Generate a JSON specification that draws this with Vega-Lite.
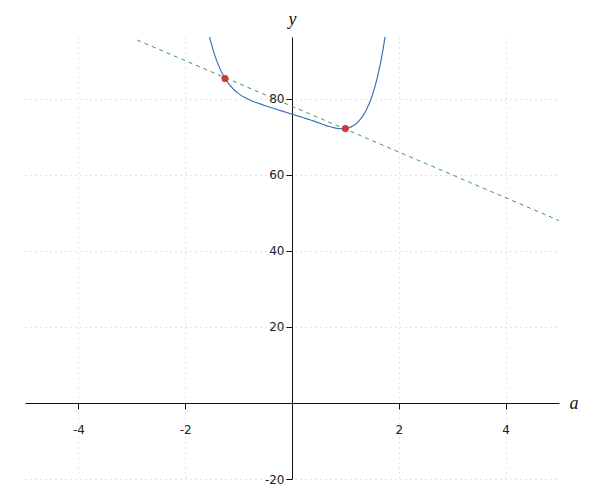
{
  "$schema": "https://vega.github.io/schema/vega-lite/v6.json",
  "autosize": "none",
  "width": 534,
  "height": 442,
  "padding": {"left": 25, "top": 37, "right": 41, "bottom": 21},
  "background": "white",
  "config": {
    "view": {"stroke": null},
    "axis": {
      "labelFont": "DejaVu Sans",
      "labelFontSize": 12,
      "labelColor": "#222",
      "domainColor": "#111",
      "tickColor": "#111",
      "gridColor": "#c8c8c8",
      "gridDash": [1, 4],
      "gridWidth": 1,
      "titleFont": "Liberation Serif",
      "titleFontStyle": "italic",
      "titleFontWeight": "normal",
      "titleFontSize": 18,
      "titleColor": "#111"
    }
  },
  "datasets": {
    "curve": [
      {"x": -1.6, "y": 99.82},
      {"x": -1.55, "y": 96.69},
      {"x": -1.5, "y": 93.99},
      {"x": -1.45, "y": 91.67},
      {"x": -1.4, "y": 89.69},
      {"x": -1.35, "y": 87.99},
      {"x": -1.3, "y": 86.55},
      {"x": -1.25, "y": 85.31},
      {"x": -1.2, "y": 84.27},
      {"x": -1.1, "y": 82.61},
      {"x": -1.0, "y": 81.4},
      {"x": -0.9, "y": 80.49},
      {"x": -0.8, "y": 79.78},
      {"x": -0.7, "y": 79.2},
      {"x": -0.6, "y": 78.69},
      {"x": -0.5, "y": 78.22},
      {"x": -0.4, "y": 77.76},
      {"x": -0.3, "y": 77.32},
      {"x": -0.2, "y": 76.88},
      {"x": -0.1, "y": 76.44},
      {"x": 0.0, "y": 76.0},
      {"x": 0.1, "y": 75.56},
      {"x": 0.2, "y": 75.12},
      {"x": 0.3, "y": 74.68},
      {"x": 0.4, "y": 74.24},
      {"x": 0.5, "y": 73.72},
      {"x": 0.6, "y": 73.21},
      {"x": 0.7, "y": 72.74},
      {"x": 0.8, "y": 72.39},
      {"x": 0.9, "y": 72.17},
      {"x": 1.0, "y": 72.2},
      {"x": 1.1, "y": 72.58},
      {"x": 1.2, "y": 73.46},
      {"x": 1.3, "y": 75.01},
      {"x": 1.4, "y": 77.37},
      {"x": 1.5, "y": 80.79},
      {"x": 1.6, "y": 85.74},
      {"x": 1.7, "y": 92.66},
      {"x": 1.75, "y": 97.02}
    ],
    "secant": [
      {"x": -2.9, "y": 95.5},
      {"x": 5.0, "y": 48.0}
    ],
    "pts": [
      {"x": -1.255, "y": 85.4},
      {"x": 1.0, "y": 72.2}
    ]
  },
  "layer": [
    {
      "data": {"name": "secant"},
      "mark": {"type": "line", "color": "#3e9a52", "strokeWidth": 1, "strokeDash": [4, 4], "clip": true},
      "encoding": {
        "x": {
          "field": "x", "type": "quantitative",
          "scale": {"domain": [-5, 5], "nice": false, "zero": false},
          "axis": {
            "values": [-4, -2, 2, 4],
            "labelExpr": "'' + datum.value",
            "offset": -76,
            "tickSize": 6,
            "labelPadding": 15,
            "grid": true,
            "title": "a",
            "titleX": 544,
            "titleY": 0,
            "titleAlign": "left",
            "titleBaseline": "middle",
            "titleAngle": 0
          }
        },
        "y": {
          "field": "y", "type": "quantitative",
          "scale": {"domain": [-20, 96.3], "nice": false, "zero": false},
          "axis": {
            "values": [-20, 20, 40, 60, 80],
            "labelExpr": "'' + datum.value",
            "offset": -267,
            "tickSize": 6,
            "labelPadding": 2,
            "grid": true,
            "title": "y",
            "titleX": 0,
            "titleY": -9,
            "titleAlign": "center",
            "titleBaseline": "bottom",
            "titleAngle": 0
          }
        }
      }
    },
    {
      "data": {"name": "curve"},
      "mark": {"type": "line", "color": "#3a76c0", "strokeWidth": 1.2, "interpolate": "monotone", "clip": true},
      "encoding": {
        "x": {"field": "x", "type": "quantitative"},
        "y": {"field": "y", "type": "quantitative"}
      }
    },
    {
      "data": {"name": "pts"},
      "mark": {"type": "point", "filled": true, "color": "#cc3a36", "size": 50, "opacity": 1},
      "encoding": {
        "x": {"field": "x", "type": "quantitative"},
        "y": {"field": "y", "type": "quantitative"}
      }
    }
  ]
}
